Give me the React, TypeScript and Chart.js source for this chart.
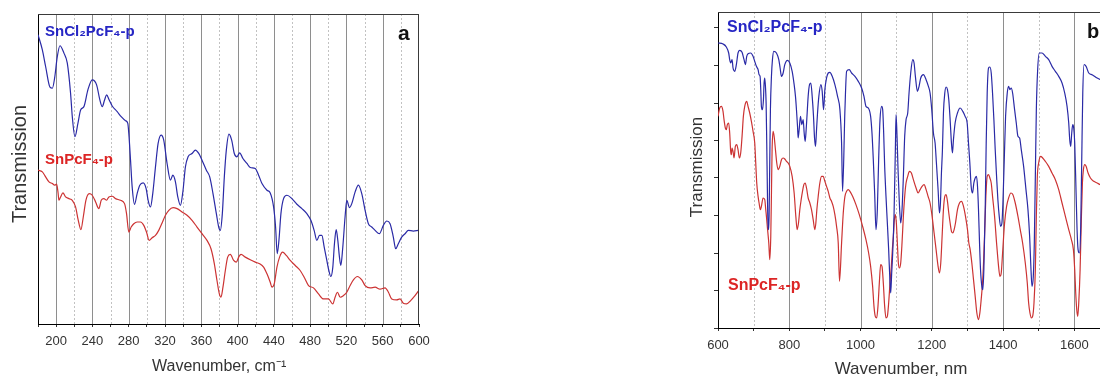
import React, { useEffect, useRef } from 'react';
import { Chart, registerables } from 'chart.js';

Chart.register(...registerables);

// ---------- DATA ----------
const seriesNames = ['SnCl₂PcF₄-p', 'SnPcF₄-p'];
const panelNames = ['a', 'b'];
const axisTitlesA = ['Wavenumber, cm⁻¹', 'Transmission'];
const axisTitlesB = ['Wavenumber, nm', 'Transmission'];

const aTickLabels = [200, 240, 280, 320, 360, 400, 440, 480, 520, 560, 600];
const aMajorGrid = [200, 240, 280, 320, 360, 400, 440, 480, 520, 560];
const aMinorGrid = [220, 260, 300, 340, 380, 420, 460, 500, 540, 580];
const bTickLabels = [600, 800, 1000, 1200, 1400, 1600];
const bMajorGrid = [800, 1000, 1200, 1400, 1600];
const bMinorGrid = [700, 900, 1100, 1300, 1500];

// Panel a: [wavenumber cm-1, transmission (a.u.)]
const aBlue: [number, number][] = [
  [180.0, 86.5], [184.8, 82.0], [188.4, 77.0], [193.2, 70.8], [195.8, 70.5], [198.3, 73.5], [201.3, 80.0], [204.2, 83.2],
  [208.6, 81.0], [212.3, 78.0], [215.9, 69.0], [217.8, 62.0], [220.7, 56.0], [224.0, 60.0], [227.0, 64.0], [230.6, 65.0],
  [235.0, 70.0], [239.8, 73.0], [244.6, 71.5], [248.2, 67.0], [250.8, 65.0], [253.4, 67.0], [255.6, 68.5], [258.5, 67.0],
  [261.8, 65.2], [267.3, 63.5], [271.7, 62.0], [276.5, 60.8], [279.0, 60.0], [280.1, 57.0], [282.0, 49.0], [283.8, 41.0],
  [286.4, 35.8], [289.3, 39.0], [292.2, 41.5], [295.9, 42.2], [299.2, 40.5], [301.4, 37.0], [304.0, 35.0], [306.5, 39.0],
  [309.5, 47.0], [312.4, 54.0], [315.7, 56.5], [318.6, 55.0], [322.3, 48.0], [326.0, 43.0], [328.6, 44.5], [331.5, 42.5],
  [334.1, 38.0], [337.0, 35.5], [339.9, 40.0], [342.5, 47.0], [345.4, 50.0], [349.8, 51.0], [353.5, 52.0], [357.2, 51.0],
  [360.8, 49.0], [365.6, 46.0], [369.3, 44.0], [372.9, 39.0], [376.6, 33.0], [379.2, 29.0], [381.0, 28.0], [383.2, 33.0],
  [385.4, 44.0], [387.6, 52.0], [390.5, 56.8], [393.5, 55.0], [396.4, 51.0], [399.3, 50.0], [402.3, 51.2], [405.9, 49.5],
  [410.3, 48.0], [414.0, 46.8], [419.5, 46.5], [423.2, 44.5], [426.9, 42.0], [432.4, 40.0], [436.0, 39.2], [439.7, 35.0],
  [441.9, 29.0], [443.7, 21.0], [445.6, 25.0], [447.8, 33.0], [450.7, 37.5], [454.4, 38.5], [459.9, 37.5], [465.4, 35.8],
  [470.9, 34.5], [476.4, 33.0], [480.8, 31.0], [484.4, 28.0], [487.4, 25.0], [490.3, 26.5], [492.9, 26.5], [495.5, 23.0],
  [498.4, 19.0], [500.6, 16.0], [502.8, 14.2], [505.0, 17.0], [506.8, 24.0], [508.7, 28.2], [510.5, 25.0], [512.3, 20.0],
  [513.8, 17.5], [516.0, 23.0], [518.5, 32.0], [520.4, 37.0], [523.3, 34.8], [525.9, 36.0], [529.6, 39.5], [533.2, 41.5],
  [536.9, 39.0], [540.6, 34.0], [544.2, 30.0], [547.9, 29.0], [551.6, 28.0], [556.3, 27.0], [560.7, 29.5], [564.4, 30.8],
  [568.1, 30.0], [571.7, 26.0], [574.3, 22.5], [577.2, 24.0], [580.9, 26.0], [584.6, 27.0], [588.2, 28.0], [593.7, 27.8],
  [599.3, 28.0],
];

const aRed: [number, number][] = [
  [180.0, 46.0], [184.8, 45.5], [188.4, 44.0], [192.1, 42.5], [195.8, 42.0], [198.3, 41.5], [200.5, 41.8], [202.0, 39.5],
  [203.1, 37.0], [204.9, 38.0], [207.5, 39.2], [210.4, 38.0], [214.1, 37.5], [217.8, 37.0], [221.4, 35.0], [224.4, 31.0],
  [227.3, 28.2], [229.9, 32.0], [232.8, 37.0], [236.5, 39.0], [239.8, 38.5], [243.5, 36.5], [247.1, 34.5], [249.7, 37.0],
  [252.6, 37.5], [255.6, 37.0], [258.1, 38.0], [261.8, 38.2], [265.5, 37.5], [271.0, 37.0], [275.4, 36.0], [277.6, 33.0],
  [280.1, 27.5], [282.7, 29.0], [285.6, 30.0], [289.3, 30.5], [293.0, 30.5], [296.6, 29.5], [299.6, 27.5], [302.5, 25.0],
  [305.8, 25.8], [309.5, 26.5], [313.1, 28.0], [316.8, 30.2], [320.5, 32.5], [324.2, 34.0], [328.9, 34.8], [333.3, 34.5],
  [338.8, 33.5], [344.3, 32.5], [349.8, 31.0], [355.3, 29.0], [360.8, 27.0], [366.3, 25.0], [370.7, 22.5], [374.4, 18.0],
  [377.3, 13.0], [379.9, 9.0], [381.7, 8.0], [383.9, 11.0], [386.5, 16.0], [389.1, 20.0], [392.0, 20.8], [395.7, 19.0],
  [398.6, 18.5], [401.6, 20.2], [403.8, 20.8], [408.5, 20.0], [414.0, 19.2], [419.5, 18.5], [424.3, 18.0], [428.7, 17.0],
  [432.4, 15.0], [436.0, 12.5], [437.9, 11.0], [440.4, 12.0], [443.4, 17.0], [446.3, 20.0], [449.6, 21.5], [453.7, 20.5],
  [458.1, 19.0], [463.6, 17.5], [469.0, 16.0], [473.4, 14.0], [478.2, 11.5], [483.7, 10.8], [489.2, 9.0], [494.7, 7.5],
  [500.2, 7.5], [505.0, 6.0], [507.5, 8.0], [510.1, 9.5], [513.1, 8.0], [516.7, 8.5], [520.4, 9.5], [524.1, 11.5],
  [527.7, 13.2], [532.1, 14.2], [536.9, 13.2], [540.6, 11.5], [546.1, 10.8], [551.6, 11.0], [557.1, 10.4], [562.6, 10.8],
  [566.3, 9.5], [569.9, 7.5], [575.4, 7.2], [579.1, 7.5], [582.7, 6.2], [586.4, 6.0], [590.8, 7.0], [595.6, 8.5],
  [599.3, 9.8],
];

// Panel b: [wavenumber, transmission (a.u.)]
const bBlue: [number, number][] = [
  [600.0, 85.5], [614.1, 85.2], [623.4, 84.3], [630.0, 82.5], [632.8, 80.5], [635.6, 79.5], [639.4, 80.5], [642.2, 78.0],
  [646.9, 77.0], [651.5, 79.0], [656.2, 82.5], [660.9, 83.3], [667.5, 82.7], [673.1, 80.5], [676.9, 79.0], [680.6, 81.5],
  [684.3, 82.3], [691.8, 82.5], [698.4, 81.5], [703.1, 80.0], [707.8, 78.5], [712.5, 77.5], [715.3, 76.0], [718.1, 75.5],
  [720.0, 71.5], [721.8, 66.5], [724.6, 65.5], [727.5, 68.5], [729.3, 73.5], [731.2, 75.0], [733.1, 72.5], [735.0, 67.5],
  [736.8, 55.5], [738.7, 40.5], [740.6, 29.5], [743.4, 33.5], [745.3, 50.5], [747.1, 65.5], [750.0, 75.5], [752.8, 80.5],
  [756.5, 83.0], [764.0, 82.5], [770.6, 80.5], [774.3, 78.0], [778.1, 75.5], [782.8, 76.5], [787.4, 79.0], [794.9, 80.3],
  [801.5, 79.5], [808.1, 77.0], [813.7, 73.0], [817.4, 69.5], [820.2, 65.5], [823.1, 60.5], [824.9, 57.0], [827.7, 59.5],
  [831.5, 63.5], [835.2, 61.0], [839.0, 62.5], [841.8, 58.5], [844.6, 56.0], [847.4, 59.5], [850.2, 64.5], [853.0, 69.5],
  [856.8, 73.0], [860.5, 73.5], [864.3, 69.5], [868.0, 63.5], [870.9, 57.0], [873.7, 54.5], [876.5, 59.5], [879.3, 64.5],
  [883.0, 69.5], [888.7, 73.0], [892.4, 71.0], [896.2, 65.5], [899.9, 71.5], [904.6, 75.0], [909.3, 76.5], [914.0, 76.7],
  [920.5, 75.5], [928.0, 73.0], [935.5, 69.5], [942.1, 65.5], [946.8, 55.5], [949.6, 41.0], [956.2, 65.5], [960.9, 77.0],
  [968.4, 77.5], [974.9, 76.5], [984.3, 75.5], [993.7, 74.0], [1003.0, 72.0], [1009.6, 69.5], [1015.2, 66.5], [1021.7, 66.0],
  [1028.3, 63.5], [1032.1, 58.5], [1035.8, 50.5], [1039.6, 40.5], [1043.3, 29.5], [1047.1, 35.5], [1050.8, 50.5], [1054.6, 62.5],
  [1059.3, 66.5], [1062.1, 65.5], [1064.9, 58.5], [1067.7, 48.5], [1071.4, 39.5], [1075.2, 31.5], [1078.9, 23.5], [1082.7, 13.5],
  [1084.6, 10.5], [1087.4, 16.5], [1090.2, 22.5], [1093.9, 33.5], [1097.7, 53.5], [1099.6, 64.0], [1102.4, 57.5], [1105.2, 47.5],
  [1108.9, 37.5], [1112.7, 31.5], [1116.4, 35.5], [1120.2, 45.5], [1123.9, 57.5], [1127.7, 62.5], [1132.4, 64.5], [1136.1, 70.5],
  [1140.8, 76.5], [1146.4, 80.5], [1150.2, 79.5], [1153.9, 75.5], [1159.5, 71.0], [1164.2, 72.5], [1168.9, 75.0], [1176.4, 76.0],
  [1183.9, 74.5], [1190.4, 72.5], [1195.1, 70.5], [1199.8, 65.5], [1204.5, 58.5], [1209.2, 55.5], [1212.9, 49.5], [1217.6, 41.5],
  [1221.4, 34.5], [1224.2, 37.5], [1227.0, 46.5], [1229.8, 53.5], [1232.6, 64.5], [1236.4, 70.5], [1240.1, 72.3], [1243.9, 71.5],
  [1247.6, 68.5], [1251.4, 62.5], [1255.1, 55.5], [1257.9, 52.5], [1260.7, 56.5], [1265.4, 61.5], [1272.0, 64.5], [1279.5, 66.0],
  [1287.0, 65.0], [1293.5, 63.5], [1299.2, 61.5], [1302.9, 55.5], [1306.7, 49.5], [1310.4, 42.5], [1314.2, 40.5], [1317.9, 43.5],
  [1321.7, 45.0], [1325.4, 45.5], [1328.2, 42.5], [1331.0, 35.5], [1333.9, 25.5], [1336.7, 17.5], [1340.4, 12.5], [1343.2, 11.5],
  [1346.0, 17.5], [1349.8, 35.5], [1352.6, 55.5], [1355.4, 70.5], [1359.2, 78.0], [1362.9, 78.3], [1366.7, 76.5], [1370.4, 70.5],
  [1374.2, 62.5], [1377.9, 53.5], [1381.7, 45.5], [1385.4, 38.5], [1389.2, 33.5], [1392.9, 30.5], [1396.7, 31.5], [1399.5, 37.5],
  [1403.3, 50.5], [1407.0, 63.5], [1411.7, 70.5], [1415.4, 72.5], [1419.2, 71.5], [1422.9, 72.0], [1426.7, 70.5], [1432.3, 65.5],
  [1437.0, 61.5], [1441.7, 57.5], [1446.4, 57.0], [1451.0, 53.5], [1457.6, 48.5], [1464.2, 41.5], [1469.8, 35.5], [1474.5, 27.5],
  [1478.3, 17.5], [1481.1, 12.5], [1484.8, 15.5], [1487.6, 25.5], [1490.5, 45.5], [1493.3, 65.5], [1497.0, 77.5], [1501.7, 82.5],
  [1509.2, 82.5], [1518.6, 81.5], [1528.0, 80.5], [1537.3, 78.5], [1546.7, 77.0], [1556.1, 75.5], [1565.4, 73.5], [1572.9, 70.5],
  [1579.5, 66.5], [1584.2, 61.5], [1587.0, 56.5], [1589.8, 54.5], [1592.6, 58.5], [1595.4, 61.0], [1598.2, 60.0], [1601.0, 55.5],
  [1604.8, 40.5], [1607.6, 29.5], [1610.4, 23.5], [1614.2, 22.5], [1617.9, 30.5], [1620.7, 50.5], [1623.6, 70.5], [1627.3, 79.0],
  [1632.9, 78.5], [1640.4, 76.5], [1649.8, 76.0], [1663.9, 75.0], [1673.2, 74.5], [1700.0, 74.0],
];

const bRed: [number, number][] = [
  [600.0, 63.5], [604.7, 66.0], [609.4, 66.5], [614.1, 65.0], [616.9, 62.5], [620.6, 60.0], [623.4, 59.5], [626.2, 61.0],
  [630.0, 61.5], [632.8, 58.5], [635.6, 53.0], [637.5, 52.0], [639.4, 54.0], [642.2, 53.0], [645.0, 51.0], [648.7, 54.5],
  [652.5, 55.0], [656.2, 53.5], [660.0, 51.0], [663.7, 52.5], [667.5, 57.5], [671.2, 63.5], [675.0, 66.5], [680.6, 68.0],
  [684.3, 66.5], [689.0, 64.5], [693.7, 62.0], [698.4, 59.0], [703.1, 55.5], [705.9, 49.5], [708.7, 43.5], [712.5, 39.5],
  [715.3, 37.5], [719.0, 35.5], [721.8, 36.5], [726.5, 39.0], [731.2, 38.5], [734.0, 35.5], [735.9, 33.5], [738.7, 30.0],
  [742.5, 25.5], [745.3, 20.5], [748.1, 27.5], [750.0, 40.5], [751.8, 53.5], [754.6, 59.0], [757.5, 57.5], [761.2, 53.5],
  [764.9, 49.5], [768.7, 47.5], [773.4, 48.5], [778.1, 50.5], [782.8, 51.0], [787.4, 50.7], [792.1, 50.0], [796.8, 49.5],
  [801.5, 48.5], [808.1, 45.5], [813.7, 40.5], [818.4, 33.5], [822.1, 29.5], [825.9, 31.5], [829.6, 35.5], [833.4, 38.5],
  [837.1, 41.0], [840.9, 43.0], [844.6, 43.5], [848.4, 42.0], [853.0, 39.0], [857.7, 37.5], [862.4, 35.5], [867.1, 32.5],
  [871.8, 29.5], [874.6, 31.5], [877.4, 35.5], [881.2, 39.5], [885.8, 43.5], [890.5, 45.5], [895.2, 45.5], [899.9, 44.0],
  [904.6, 42.5], [909.3, 41.0], [914.0, 39.0], [918.6, 38.0], [923.3, 36.5], [928.0, 34.0], [932.7, 30.5], [937.4, 25.5],
  [941.0, 14.0], [946.8, 25.5], [951.5, 34.5], [956.2, 39.5], [960.9, 41.0], [965.6, 41.5], [970.2, 41.0], [977.7, 39.5],
  [987.1, 37.0], [996.5, 34.0], [1005.8, 30.5], [1015.2, 26.5], [1022.7, 22.5], [1028.3, 18.5], [1033.9, 12.5], [1037.7, 6.5],
  [1041.4, 3.5], [1045.2, 3.0], [1048.9, 6.5], [1052.7, 13.5], [1056.4, 19.0], [1060.2, 18.5], [1063.9, 13.5], [1067.7, 6.5],
  [1071.4, 3.0], [1075.2, 3.5], [1078.9, 7.5], [1082.7, 13.5], [1086.4, 18.5], [1089.2, 23.5], [1092.1, 27.5], [1094.9, 32.5],
  [1097.7, 34.0], [1100.5, 31.5], [1103.3, 25.5], [1106.1, 19.5], [1108.9, 18.0], [1112.7, 19.5], [1116.4, 25.5], [1120.2, 33.5],
  [1123.9, 39.5], [1127.7, 43.5], [1132.4, 45.5], [1137.1, 47.0], [1142.7, 46.5], [1148.3, 44.5], [1155.8, 42.0], [1161.5, 40.5],
  [1167.1, 41.5], [1172.7, 42.5], [1178.4, 43.0], [1184.0, 41.5], [1189.5, 39.5], [1195.1, 37.5], [1200.8, 33.5], [1206.4, 28.5],
  [1212.0, 23.5], [1217.6, 18.5], [1221.4, 16.5], [1225.1, 19.5], [1228.9, 27.5], [1232.6, 35.5], [1236.4, 39.5], [1240.1, 40.0],
  [1243.9, 38.0], [1247.6, 34.5], [1251.4, 31.5], [1255.1, 29.0], [1258.9, 28.5], [1262.6, 29.5], [1266.4, 31.5], [1272.0, 35.5],
  [1277.6, 37.5], [1283.3, 38.0], [1288.9, 36.5], [1294.5, 33.5], [1300.1, 29.5], [1303.9, 25.5], [1307.6, 23.5], [1312.3, 19.5],
  [1317.0, 14.5], [1321.7, 9.5], [1326.4, 4.5], [1331.0, 2.5], [1334.8, 4.5], [1338.5, 8.5], [1342.3, 13.5], [1345.1, 19.5],
  [1347.9, 27.5], [1351.7, 39.5], [1355.4, 45.5], [1359.2, 46.0], [1362.9, 45.0], [1366.7, 43.5], [1370.4, 39.5], [1376.1, 33.5],
  [1381.7, 25.5], [1387.3, 18.5], [1391.1, 15.5], [1394.8, 16.5], [1398.6, 22.5], [1404.2, 31.5], [1409.8, 36.5], [1415.4, 39.0],
  [1422.0, 40.5], [1427.6, 40.0], [1434.1, 37.5], [1441.7, 33.5], [1448.2, 29.5], [1454.8, 25.5], [1462.3, 19.5], [1467.9, 13.5],
  [1471.7, 7.5], [1475.4, 4.5], [1479.2, 3.0], [1482.9, 3.5], [1486.7, 7.5], [1490.5, 17.5], [1493.3, 33.5], [1496.1, 45.5],
  [1499.8, 49.5], [1505.5, 51.5], [1511.1, 51.0], [1518.6, 50.0], [1528.0, 48.5], [1537.3, 46.5], [1546.7, 44.5], [1556.1, 41.5],
  [1565.4, 37.5], [1574.8, 33.5], [1584.2, 29.5], [1591.7, 26.5], [1597.3, 23.5], [1601.0, 17.5], [1603.8, 10.5], [1606.7, 5.5],
  [1609.5, 3.5], [1612.3, 7.5], [1616.1, 17.5], [1619.8, 33.5], [1622.6, 43.5], [1625.4, 47.5], [1629.2, 49.0], [1632.9, 48.5],
  [1638.5, 46.5], [1645.1, 45.0], [1654.5, 44.0], [1663.9, 43.5], [1673.2, 43.0], [1700.0, 42.6],
];

// ---------- STYLE ----------
const FONT = "'Liberation Sans', Arial, Helvetica, sans-serif";
const BLUE_LINE = '#2a2aa6';
const RED_LINE = '#cc3333';
const BLUE_LABEL = '#2626c4';
const RED_LABEL = '#dc2525';
const TEXT = '#333333';

type TextSpec = {
  text: string; x: number; y: number; font: string; color: string;
  align?: CanvasTextAlign; baseline?: CanvasTextBaseline; rotate?: boolean;
};
type Deco = {
  major: number[]; minor: number[]; frameTop: boolean; frameRight: boolean; texts: TextSpec[];
};

function makeDeco(deco: Deco) {
  return {
    id: 'deco',
    beforeDatasetsDraw(chart: any) {
      const { ctx, chartArea: ca, scales } = chart;
      const xs = scales.x;
      ctx.save();
      ctx.lineWidth = 1;
      ctx.strokeStyle = '#c2c2c2';
      ctx.setLineDash([2, 2]);
      for (const v of deco.minor) {
        const px = Math.round(xs.getPixelForValue(v)) + 0.5;
        ctx.beginPath();
        ctx.moveTo(px, ca.top);
        ctx.lineTo(px, ca.bottom);
        ctx.stroke();
      }
      ctx.setLineDash([]);
      ctx.strokeStyle = '#8e8e8e';
      for (const v of deco.major) {
        const px = Math.round(xs.getPixelForValue(v)) + 0.5;
        ctx.beginPath();
        ctx.moveTo(px, ca.top);
        ctx.lineTo(px, ca.bottom);
        ctx.stroke();
      }
      ctx.restore();
    },
    afterDraw(chart: any) {
      const { ctx, chartArea: ca } = chart;
      ctx.save();
      ctx.lineWidth = 1;
      ctx.strokeStyle = '#3a3a3a';
      if (deco.frameTop) {
        const y = Math.round(ca.top) + 0.5;
        ctx.beginPath();
        ctx.moveTo(ca.left, y);
        ctx.lineTo(ca.right, y);
        ctx.stroke();
      }
      if (deco.frameRight) {
        const x = Math.round(ca.right) - 0.5;
        ctx.beginPath();
        ctx.moveTo(x, ca.top);
        ctx.lineTo(x, ca.bottom);
        ctx.stroke();
      }
      for (const t of deco.texts) {
        ctx.save();
        ctx.font = t.font;
        ctx.fillStyle = t.color;
        ctx.textAlign = t.align || 'left';
        ctx.textBaseline = t.baseline || 'alphabetic';
        if (t.rotate) {
          ctx.translate(t.x, t.y);
          ctx.rotate(-Math.PI / 2);
          ctx.fillText(t.text, 0, 0);
        } else {
          ctx.fillText(t.text, t.x, t.y);
        }
        ctx.restore();
      }
      ctx.restore();
    },
  };
}

type Panel = {
  blue: [number, number][]; red: [number, number][];
  xMin: number; xMax: number; xStep: number; xLabels: number[];
  yMax: number; yStep: number; yTicks: boolean;
  padTop: number; padRight: number; yWidth: number; xHeight: number;
  tickFont: number; tickPad: number; deco: Deco;
};

function buildConfig(p: Panel): any {
  return {
    type: 'line',
    data: {
      datasets: [
        {
          label: seriesNames[0],
          data: p.blue.map(([x, y]) => ({ x, y })),
          borderColor: BLUE_LINE, borderWidth: 1.2, pointRadius: 0,
          cubicInterpolationMode: 'monotone', fill: false,
        },
        {
          label: seriesNames[1],
          data: p.red.map(([x, y]) => ({ x, y })),
          borderColor: RED_LINE, borderWidth: 1.2, pointRadius: 0,
          cubicInterpolationMode: 'monotone', fill: false,
        },
      ],
    },
    options: {
      animation: false,
      responsive: false,
      devicePixelRatio: 1,
      events: [],
      layout: { padding: { left: 0, top: p.padTop, right: p.padRight, bottom: 0 } },
      plugins: { legend: { display: false }, tooltip: { enabled: false }, title: { display: false } },
      scales: {
        x: {
          type: 'linear', min: p.xMin, max: p.xMax,
          afterFit: (s: any) => { s.height = p.xHeight; },
          ticks: {
            stepSize: p.xStep, autoSkip: false, maxRotation: 0, minRotation: 0, includeBounds: false,
            padding: p.tickPad, color: TEXT, font: { family: FONT, size: p.tickFont },
            callback: (v: any) => (p.xLabels.includes(Math.round(Number(v))) ? String(Math.round(Number(v))) : ''),
          },
          grid: { display: true, drawOnChartArea: false, drawTicks: true, tickLength: 3, tickColor: '#333', tickWidth: 1 },
          border: { display: true, color: '#000', width: 1 },
        },
        y: {
          type: 'linear', min: 0, max: p.yMax,
          afterFit: (s: any) => { s.width = p.yWidth; },
          ticks: { display: false, stepSize: p.yStep, includeBounds: false },
          grid: { display: true, drawOnChartArea: false, drawTicks: p.yTicks, tickLength: 4, tickColor: '#333', tickWidth: 1 },
          border: { display: true, color: '#000', width: 1 },
        },
      },
    },
    plugins: [makeDeco(p.deco)],
  };
}

const panelA: Panel = {
  blue: aBlue, red: aRed,
  xMin: 180, xMax: 600, xStep: 20, xLabels: aTickLabels,
  yMax: 92.7, yStep: 10, yTicks: false,
  padTop: 14, padRight: 21, yWidth: 38, xHeight: 52,
  tickFont: 13, tickPad: 7,
  deco: {
    major: aMajorGrid, minor: aMinorGrid, frameTop: true, frameRight: true,
    texts: [
      { text: axisTitlesA[1], x: 20, y: 164, font: `20px ${FONT}`, color: TEXT, align: 'center', baseline: 'middle', rotate: true },
      { text: axisTitlesA[0], x: 152, y: 371, font: `16px ${FONT}`, color: TEXT },
      { text: seriesNames[0], x: 45, y: 36, font: `bold 15px ${FONT}`, color: BLUE_LABEL },
      { text: seriesNames[1], x: 45, y: 164, font: `bold 15px ${FONT}`, color: RED_LABEL },
      { text: panelNames[0], x: 398, y: 40, font: `bold 21px ${FONT}`, color: '#111' },
    ],
  },
};

const panelB: Panel = {
  blue: bBlue, red: bRed,
  xMin: 600, xMax: 1700, xStep: 100, xLabels: bTickLabels,
  yMax: 94.8, yStep: 11.25, yTicks: true,
  padTop: 12, padRight: 30, yWidth: 38, xHeight: 48,
  tickFont: 13, tickPad: 7,
  deco: {
    major: bMajorGrid, minor: bMinorGrid, frameTop: true, frameRight: false,
    texts: [
      { text: axisTitlesB[1], x: 17, y: 167, font: `17px ${FONT}`, color: TEXT, align: 'center', baseline: 'middle', rotate: true },
      { text: axisTitlesB[0], x: 221, y: 374, font: `17px ${FONT}`, color: TEXT, align: 'center' },
      { text: seriesNames[0], x: 47, y: 32, font: `bold 16px ${FONT}`, color: BLUE_LABEL },
      { text: seriesNames[1], x: 48, y: 290, font: `bold 16px ${FONT}`, color: RED_LABEL },
      { text: panelNames[1], x: 407, y: 38, font: `bold 20px ${FONT}`, color: '#111' },
    ],
  },
};

export default function App() {
  const refA = useRef<HTMLCanvasElement>(null);
  const refB = useRef<HTMLCanvasElement>(null);

  useEffect(() => {
    const a = new Chart(refA.current as HTMLCanvasElement, buildConfig(panelA));
    const b = new Chart(refB.current as HTMLCanvasElement, buildConfig(panelB));
    return () => {
      a.destroy();
      b.destroy();
    };
  }, []);

  return (
    <div
      style={{
        position: 'fixed', left: 0, top: 0, width: 1100, height: 376,
        overflow: 'hidden', background: '#ffffff',
      }}
    >
      <canvas ref={refA} width={440} height={376} style={{ position: 'absolute', left: 0, top: 0, width: 440, height: 376 }} />
      <canvas ref={refB} width={460} height={376} style={{ position: 'absolute', left: 680, top: 0, width: 460, height: 376 }} />
    </div>
  );
}
